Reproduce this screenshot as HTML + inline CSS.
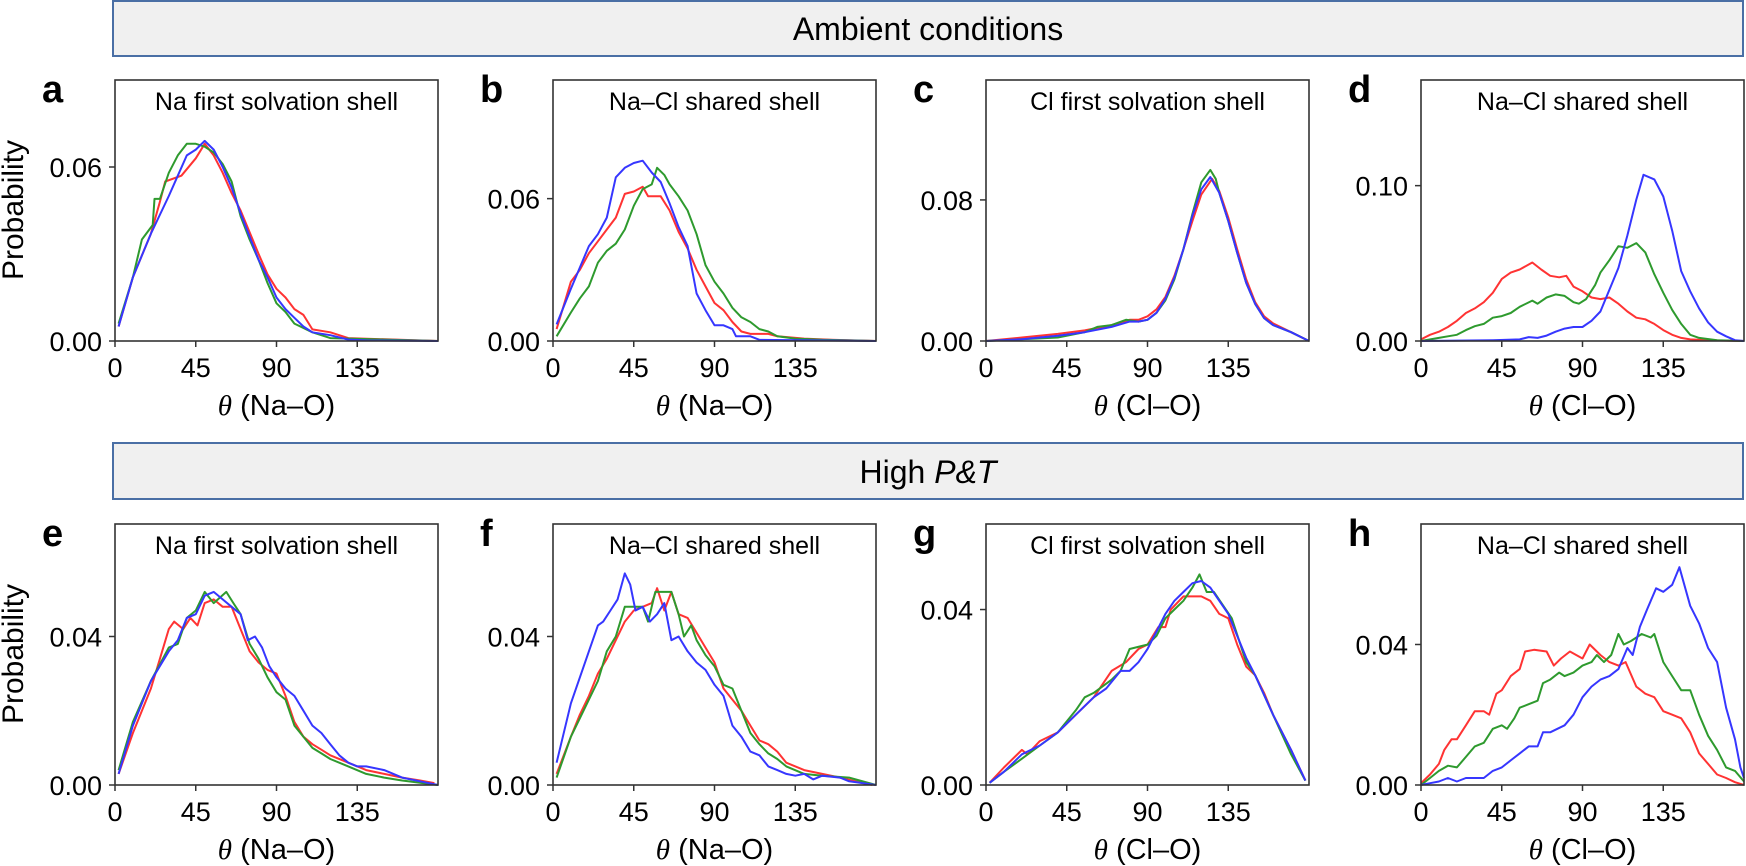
<!DOCTYPE html>
<html><head><meta charset="utf-8">
<style>
html,body{margin:0;padding:0;background:#fff;}
svg{display:block;}
text{font-family:"Liberation Sans",Arial,sans-serif;fill:#000;}
</style></head>
<body>
<svg id="s" xmlns="http://www.w3.org/2000/svg" width="1746" height="866" viewBox="0 0 1746 866">
<rect x="113" y="1" width="1630" height="55" fill="#f0f0f0" stroke="#4a6fa5" stroke-width="2"/>
<text x="928" y="40" font-size="32" text-anchor="middle">Ambient conditions</text>
<rect x="113" y="443" width="1630" height="56" fill="#f0f0f0" stroke="#4a6fa5" stroke-width="2"/>
<text x="928" y="483" font-size="32" text-anchor="middle">High <tspan font-style="italic">P&amp;T</tspan></text>
</svg>
<script>
var S=document.getElementById('s'),NS='http://www.w3.org/2000/svg';
function el(t,a,txt){var e=document.createElementNS(NS,t);for(var k in a)e.setAttribute(k,a[k]);if(txt!==undefined)e.textContent=txt;S.appendChild(e);return e;}
var R='#ff3333',G='#2e9a2e',B='#3636ff';
var P=[
{l:'a',x:115,y:80,t:'Na first solvation shell',ym:0.090,tk:[0,0.06],xl:'Na–O',
c:[[R,[[2,.005],[10,.022],[20,.037],[25,.048],[28,.055],[37,.057],[45,.063],[50,.068],[55,.064],[60,.058],[65,.051],[70,.045],[80,.030],[85,.023],[90,.018],[95,.015],[100,.011],[105,.009],[110,.004],[120,.003],[125,.002],[130,.001],[180,0]]],
[G,[[2,.006],[10,.022],[15,.035],[21,.040],[22,.049],[25,.049],[30,.058],[35,.064],[40,.068],[45,.068],[50,.067],[55,.065],[60,.061],[65,.055],[70,.043],[75,.035],[80,.028],[85,.020],[90,.013],[95,.010],[100,.006],[110,.003],[120,.001],[180,0]]],
[B,[[2,.005],[10,.022],[20,.037],[30,.050],[35,.057],[40,.064],[45,.066],[50,.069],[55,.066],[60,.060],[65,.053],[70,.044],[75,.036],[80,.028],[85,.022],[90,.015],[95,.011],[100,.008],[105,.005],[110,.003],[120,.002],[130,.0005],[140,.0002],[180,0]]]]},
{l:'b',x:553,y:80,t:'Na–Cl shared shell',ym:0.110,tk:[0,0.06],xl:'Na–O',
c:[[R,[[2,.005],[10,.025],[15,.03],[20,.037],[25,.042],[30,.047],[35,.052],[40,.062],[45,.063],[50,.065],[53,.061],[60,.061],[65,.055],[70,.046],[75,.039],[80,.030],[85,.023],[90,.016],[95,.013],[100,.008],[105,.004],[110,.003],[120,.003],[125,.002],[140,.001],[155,.0005],[180,0]]],
[G,[[2,.002],[10,.012],[15,.018],[20,.023],[25,.033],[30,.038],[35,.041],[40,.047],[45,.057],[50,.064],[55,.066],[58,.073],[62,.070],[65,.066],[70,.061],[75,.055],[80,.045],[85,.032],[90,.025],[95,.020],[100,.014],[105,.010],[110,.008],[115,.005],[120,.004],[125,.002],[135,.001],[150,.0005],[180,0]]],
[B,[[2,.007],[10,.022],[20,.040],[25,.045],[30,.052],[35,.069],[40,.073],[45,.075],[50,.076],[55,.071],[60,.067],[65,.058],[70,.048],[75,.040],[80,.020],[85,.013],[90,.0066],[95,.0066],[100,.005],[102,.002],[110,.002],[115,.0005],[180,0]]]]},
{l:'c',x:986,y:80,t:'Cl first solvation shell',ym:0.148,tk:[0,0.08],xl:'Cl–O',
c:[[R,[[0,0],[20,.002],[40,.004],[55,.006],[70,.009],[80,.012],[85,.012],[90,.014],[95,.018],[100,.025],[105,.037],[110,.052],[115,.068],[120,.083],[126,.092],[130,.085],[135,.070],[140,.052],[145,.035],[150,.022],[155,.014],[160,.010],[170,.005],[180,0]]],
[G,[[0,0],[20,.001],[40,.002],[55,.005],[62,.008],[70,.009],[78,.012],[85,.011],[90,.012],[95,.016],[100,.023],[105,.035],[110,.052],[115,.072],[120,.090],[125,.097],[128,.092],[130,.084],[135,.068],[140,.050],[145,.033],[150,.021],[155,.013],[160,.009],[170,.005],[180,0]]],
[B,[[0,0],[20,.001],[40,.003],[55,.005],[70,.008],[80,.011],[85,.011],[90,.012],[95,.016],[100,.024],[105,.036],[110,.052],[115,.071],[120,.086],[125,.093],[130,.084],[135,.068],[140,.050],[145,.033],[150,.021],[155,.013],[160,.009],[170,.005],[180,0]]]]},
{l:'d',x:1421,y:80,t:'Na–Cl shared shell',ym:0.168,tk:[0,0.10],xl:'Cl–O',
c:[[R,[[0,.001],[5,.004],[10,.006],[15,.009],[20,.013],[25,.018],[30,.021],[35,.025],[40,.031],[45,.04],[50,.044],[55,.046],[62,.0505],[67,.046],[72,.042],[77,.041],[81,.042],[85,.035],[90,.032],[95,.028],[100,.027],[105,.028],[110,.024],[115,.019],[120,.015],[125,.014],[130,.011],[135,.007],[140,.004],[145,.002],[150,.001],[160,.0005],[180,0]]],
[G,[[0,0],[10,.002],[15,.003],[20,.004],[25,.007],[30,.0095],[35,.011],[40,.015],[45,.016],[50,.018],[55,.022],[62,.026],[65,.024],[70,.028],[75,.030],[80,.029],[85,.025],[88,.024],[92,.027],[97,.036],[100,.044],[105,.052],[110,.061],[115,.060],[120,.063],[125,.057],[130,.043],[135,.031],[140,.020],[145,.011],[150,.004],[155,.002],[165,.0005],[180,0]]],
[B,[[0,0],[40,.0005],[55,.001],[60,.0025],[65,.002],[70,.0035],[75,.006],[80,.008],[85,.009],[90,.009],[95,.013],[100,.019],[105,.033],[110,.047],[115,.068],[120,.091],[124,.107],[130,.104],[135,.093],[140,.071],[145,.045],[150,.032],[155,.021],[160,.012],[165,.006],[170,.003],[175,.0005],[180,0]]]]},
{l:'e',x:115,y:524,t:'Na first solvation shell',ym:0.0703,tk:[0,0.04],xl:'Na–O',
c:[[R,[[2,.003],[10,.014],[20,.026],[25,.034],[30,.042],[33,.044],[38,.042],[42,.045],[46,.043],[50,.049],[55,.050],[60,.048],[65,.048],[70,.042],[75,.036],[80,.033],[85,.031],[90,.030],[95,.024],[100,.017],[105,.013],[110,.011],[115,.0095],[120,.008],[130,.006],[140,.004],[150,.003],[160,.002],[170,.0012],[178,.0005]]],
[G,[[2,.004],[10,.017],[20,.028],[30,.037],[35,.038],[40,.045],[45,.047],[50,.052],[55,.049],[62,.052],[66,.049],[70,.046],[75,.038],[80,.034],[85,.029],[90,.025],[95,.023],[100,.016],[105,.013],[110,.010],[115,.0085],[120,.007],[130,.005],[140,.003],[150,.002],[160,.0012],[180,0]]],
[B,[[2,.003],[10,.016],[20,.028],[30,.036],[35,.039],[40,.045],[45,.046],[50,.051],[55,.052],[60,.050],[65,.048],[70,.046],[74,.039],[78,.040],[82,.037],[86,.032],[90,.029],[95,.026],[100,.024],[105,.020],[110,.016],[115,.014],[120,.011],[125,.008],[130,.006],[135,.005],[140,.005],[150,.004],[160,.002],[170,.001],[180,0]]]]},
{l:'f',x:553,y:524,t:'Na–Cl shared shell',ym:0.0703,tk:[0,0.04],xl:'Na–O',
c:[[R,[[2,.003],[10,.013],[15,.019],[20,.024],[25,.030],[30,.034],[35,.039],[40,.044],[45,.047],[50,.048],[55,.049],[58,.053],[62,.047],[66,.052],[70,.046],[75,.045],[80,.041],[85,.037],[90,.033],[95,.026],[100,.023],[105,.020],[110,.016],[115,.012],[120,.011],[125,.009],[130,.006],[140,.004],[150,.003],[160,.002],[170,.0008],[178,0]]],
[G,[[2,.002],[10,.013],[15,.018],[20,.023],[25,.028],[30,.036],[35,.040],[40,.048],[45,.048],[50,.048],[53,.044],[57,.052],[62,.052],[66,.052],[70,.046],[73,.040],[77,.043],[80,.039],[85,.035],[90,.032],[95,.027],[100,.026],[105,.020],[110,.014],[115,.011],[120,.0085],[125,.007],[130,.005],[140,.003],[150,.0025],[165,.002],[180,0]]],
[B,[[2,.006],[10,.022],[20,.036],[25,.043],[28,.044],[32,.047],[36,.050],[40,.057],[43,.054],[46,.047],[50,.048],[54,.044],[58,.046],[62,.049],[66,.039],[70,.040],[75,.036],[80,.033],[85,.031],[90,.027],[95,.024],[100,.016],[105,.013],[110,.009],[115,.008],[120,.005],[125,.004],[130,.003],[135,.0025],[140,.003],[145,.0015],[150,.0025],[160,.002],[165,.001],[180,0]]]]},
{l:'g',x:986,y:524,t:'Cl first solvation shell',ym:0.0595,tk:[0,0.04],xl:'Cl–O',
c:[[R,[[2,.0005],[10,.004],[20,.008],[23,.007],[30,.010],[40,.012],[50,.016],[60,.020],[70,.026],[78,.028],[85,.031],[90,.032],[96,.036],[100,.036],[103,.040],[110,.043],[115,.043],[120,.043],[125,.042],[130,.039],[135,.038],[140,.032],[145,.027],[150,.025],[155,.021],[160,.016],[170,.008],[178,.001]]],
[G,[[2,.0005],[10,.003],[20,.006],[30,.009],[40,.012],[50,.017],[55,.020],[60,.021],[70,.024],[75,.026],[80,.031],[90,.032],[95,.034],[100,.038],[105,.040],[110,.042],[115,.045],[119,.048],[123,.044],[127,.044],[132,.041],[137,.038],[145,.028],[150,.025],[160,.016],[170,.007],[178,.001]]],
[B,[[2,.0005],[10,.003],[20,.007],[30,.009],[40,.012],[50,.016],[60,.020],[67,.022],[75,.026],[80,.026],[85,.028],[90,.031],[95,.035],[100,.039],[105,.042],[110,.044],[115,.046],[120,.0465],[125,.045],[130,.042],[135,.039],[140,.034],[145,.029],[150,.025],[160,.016],[170,.008],[178,.001]]]]},
{l:'h',x:1421,y:524,t:'Na–Cl shared shell',ym:0.0743,tk:[0,0.04],xl:'Cl–O',
c:[[R,[[0,.0005],[5,.003],[10,.006],[13,.010],[17,.013],[20,.013],[25,.017],[30,.021],[35,.021],[38,.020],[42,.026],[45,.027],[50,.031],[55,.033],[58,.038],[63,.0385],[70,.038],[74,.034],[78,.036],[83,.038],[90,.036],[94,.040],[100,.037],[105,.035],[110,.034],[114,.035],[120,.028],[125,.026],[130,.025],[135,.021],[140,.020],[145,.019],[150,.015],[155,.009],[160,.006],[165,.003],[170,.002],[175,.0008],[180,0]]],
[G,[[0,0],[5,.002],[10,.004],[15,.0055],[20,.005],[25,.008],[30,.011],[35,.012],[40,.016],[45,.017],[48,.016],[52,.019],[55,.022],[60,.023],[65,.024],[68,.029],[72,.030],[77,.032],[80,.031],[85,.032],[90,.034],[95,.035],[98,.037],[102,.035],[106,.037],[110,.043],[113,.040],[117,.041],[123,.043],[128,.042],[130,.043],[135,.035],[140,.031],[145,.027],[150,.027],[155,.020],[160,.014],[165,.010],[170,.005],[175,.004],[180,.001]]],
[B,[[0,0],[5,.0005],[10,.001],[15,.002],[20,.001],[25,.002],[30,.002],[35,.002],[40,.004],[45,.005],[50,.007],[55,.009],[60,.011],[65,.011],[68,.015],[72,.015],[76,.016],[80,.017],[85,.020],[90,.025],[95,.028],[100,.030],[105,.031],[110,.033],[115,.039],[118,.037],[122,.045],[126,.050],[131,.056],[135,.055],[140,.057],[144,.062],[150,.051],[155,.046],[160,.039],[165,.035],[170,.022],[175,.013],[178,.005],[180,.002]]]]}
];
var W=323,H=261;
P.forEach(function(p){
  var x0=p.x,y0=p.y,yb=y0+H;
  function X(v){return x0+v/180*W;} function Y(v){return yb-v/p.ym*H;}
  p.c.forEach(function(c){
    var d=c[1].map(function(q,i){return (i?'L':'M')+X(q[0]).toFixed(1)+','+Math.max(y0,Y(q[1])).toFixed(1);}).join('');
    el('path',{d:d,fill:'none',stroke:c[0],'stroke-width':2,'stroke-linejoin':'round'});
  });
  el('rect',{x:x0,y:y0,width:W,height:H,fill:'none',stroke:'#333','stroke-width':1.6});
  [0,45,90,135].forEach(function(t){
    el('line',{x1:X(t),x2:X(t),y1:yb,y2:yb+6,stroke:'#333','stroke-width':1.5});
    el('text',{x:X(t),y:yb+36,'font-size':27,'text-anchor':'middle'},String(t));
  });
  p.tk.forEach(function(t){
    el('line',{x1:x0-6,x2:x0,y1:Y(t),y2:Y(t),stroke:'#333','stroke-width':1.5});
    el('text',{x:x0-13,y:Y(t)+10,'font-size':27,'text-anchor':'end'},t.toFixed(2));
  });
  el('text',{x:x0+W/2,y:y0+30,'font-size':25,'text-anchor':'middle'},p.t);
  el('text',{x:x0-73,y:y0+22,'font-size':38,'font-weight':'bold'},p.l);
  var t=el('text',{x:x0+W/2,y:yb+74,'font-size':29,'text-anchor':'middle'});
  var a=document.createElementNS(NS,'tspan');a.setAttribute('font-family','"Liberation Serif",serif');a.setAttribute('font-style','italic');a.textContent='θ';t.appendChild(a);
  var b=document.createElementNS(NS,'tspan');b.textContent=' ('+p.xl+')';t.appendChild(b);
});
[210,654].forEach(function(cy){
  el('text',{x:0,y:0,'font-size':30,'text-anchor':'middle',transform:'translate(23,'+cy+') rotate(-90)'},'Probability');
});
</script>
</body></html>
